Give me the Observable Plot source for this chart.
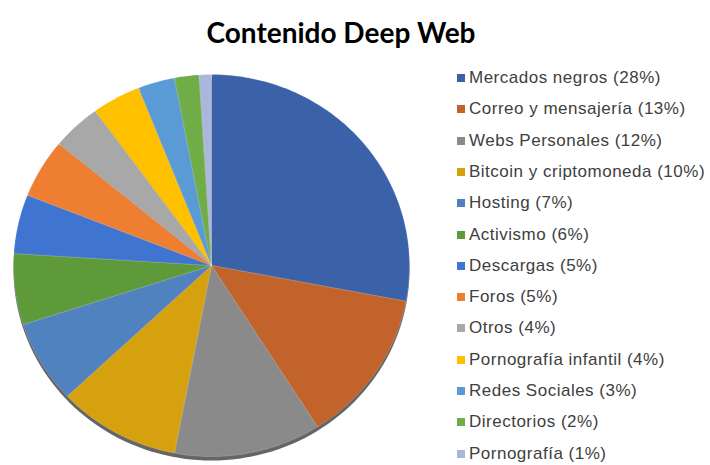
<!DOCTYPE html>
<html>
<head>
<meta charset="utf-8">
<script src="https://cdn.jsdelivr.net/npm/d3@7"></script>
<script src="https://cdn.jsdelivr.net/npm/@observablehq/plot@0.6"></script>
<style>
  body { margin: 0; background: #fff; }
  #chart { position: relative; width: 710px; height: 465px; overflow: hidden; font-family: "Liberation Sans", Arial, sans-serif; }
  #title { position: absolute; left: 0; width: 682px; top: 15px; text-align: center; font-family: Lato, sans-serif; font-weight: 700; font-size: 28px; color: #000; }
  #pie { position: absolute; left: 0; top: 0; }
  #legend { position: absolute; left: 457px; top: 0; }
  .row { position: absolute; left: 0; white-space: nowrap; font-size: 17px; letter-spacing: 0.5px; color: #404040; display: flex; align-items: center; transform: translateY(-50%); }
  .sw { width: 8px; height: 8px; margin-right: 4px; flex: none; }
</style>
</head>
<body>
<div id="chart">
  <div id="title">Contenido Deep Web</div>
  <div id="pie"></div>
  <div id="legend"></div>
</div>
<script>
// Categories and their share of content (percent)
const categories = [
  "Mercados negros", "Correo y mensajería", "Webs Personales", "Bitcoin y criptomoneda",
  "Hosting", "Activismo", "Descargas", "Foros", "Otros", "Pornografía infantil",
  "Redes Sociales", "Directorios", "Pornografía"
];
const shares = [28, 13, 12, 10, 7, 6, 5, 5, 4, 4, 3, 2, 1];
const colors = [
  "#3b62a8", "#c2632b", "#8a8a8a", "#d6a10f", "#4f82bf", "#5e9a3a", "#3f74d0",
  "#ee7f32", "#a8a8a8", "#ffc000", "#5b9bd5", "#70ad47", "#a9b8da"
];

// Slice polygons in unit-circle coordinates, clockwise from 12 o'clock
const total = d3.sum(shares);
let acc = 0;
const slicePoints = categories.flatMap((name, i) => {
  const a0 = acc / total * 2 * Math.PI;
  acc += shares[i];
  const a1 = acc / total * 2 * Math.PI;
  const n = Math.max(2, Math.ceil((a1 - a0) / (Math.PI / 180)));
  const pts = [{name, x: 0, y: 0}];
  for (let k = 0; k <= n; k++) {
    const a = a0 + (a1 - a0) * k / n;
    pts.push({name, x: Math.sin(a), y: Math.cos(a)});
  }
  pts.push({name, x: 0, y: 0});
  return pts;
});
const rim = d3.range(0, 361, 2).map(d => ({x: Math.sin(d * Math.PI / 180), y: Math.cos(d * Math.PI / 180)}));

const cx = 211, cy = 265, rx = 198, ry = 191;
const plot = Plot.plot({
  width: 430,
  height: 465,
  margin: 0,
  x: {domain: [-1, 1], range: [cx - rx, cx + rx], axis: null},
  y: {domain: [-1, 1], range: [cy + ry, cy - ry], axis: null},
  color: {domain: categories, range: colors},
  marks: [
    // darker rim beneath the disc for a slight 3D edge
    Plot.line(rim, {x: "x", y: "y", fill: "#4a4a4a", stroke: "none", dy: 4, fillOpacity: 0.85}),
    Plot.line(slicePoints, {x: "x", y: "y", z: "name", fill: "name", stroke: "#ffffff", strokeOpacity: 0.3, strokeWidth: 0.6})
  ]
});
document.getElementById("pie").appendChild(plot);

// Legend entries
const legend = document.getElementById("legend");
categories.forEach((name, i) => {
  const row = document.createElement("div");
  row.className = "row";
  row.style.top = (78 + i * 31.3) + "px";
  const sw = document.createElement("span");
  sw.className = "sw";
  sw.style.background = colors[i];
  const label = document.createElement("span");
  label.textContent = `${name} (${shares[i]}%)`;
  row.appendChild(sw);
  row.appendChild(label);
  legend.appendChild(row);
});
</script>
</body>
</html>
